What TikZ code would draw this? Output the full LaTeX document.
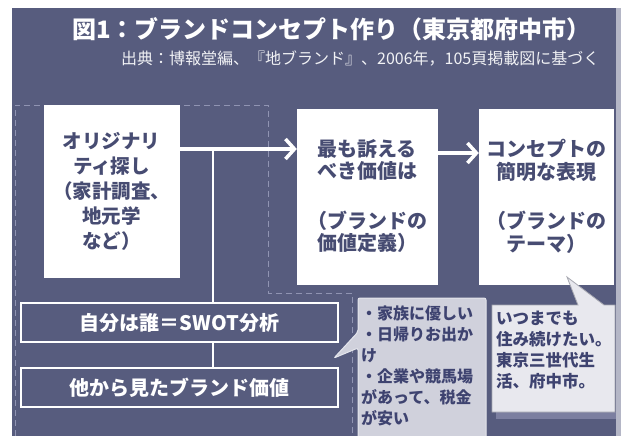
\documentclass[tikz,border=0pt]{standalone}
\usepackage{fontspec}
\setmainfont{Noto Sans CJK JP}
\usetikzlibrary{arrows.meta}
\definecolor{bg}{HTML}{575C7E}
\definecolor{strip}{HTML}{B4B6C6}
\definecolor{dashc}{HTML}{9094B2}
\definecolor{boxtext}{HTML}{474C72}
\definecolor{calltext}{HTML}{3E4370}
\definecolor{callfillA}{HTML}{D0D1DC}
\definecolor{callfillB}{HTML}{E8E8EE}
\definecolor{calldraw}{HTML}{E4E5EC}
\definecolor{shadowc}{HTML}{7C7FA0}
\tikzset{
  wbox/.style={draw=white, fill=white, inner sep=0pt, align=center, text=boxtext,
    font=\fontsize{19.5}{25}\selectfont\bfseries},
  bar/.style={draw=white, line width=1.5pt, fill=bg, inner sep=0pt, text=white,
    minimum width=317pt, minimum height=39pt, font=\fontsize{20}{20}\selectfont\bfseries},
  arr/.style={white, line width=3.5pt, -{Straight Barb[length=9pt,width=20pt]}},
  vline/.style={white, line width=1.5pt},
  calltxt/.style={anchor=north west, inner sep=0pt, align=left, text=calltext,
    font=\fontsize{16}{21}\selectfont\bfseries},
}
\begin{document}
\begin{tikzpicture}[x=1pt,y=-1pt]
\useasboundingbox (0,0) rectangle (621,436);
\fill[white] (0,0) rectangle (621,436);
\fill[bg] (12,8) rectangle (616,436);
\fill[strip] (616,8) rectangle (621,436);

% titles
\node[anchor=west, inner sep=0pt, text=white, font=\fontsize{24}{24}\selectfont\bfseries] (title) at (72,29)
  {図1：ブランドコンセプト作り（東京都府中市）};
\node[anchor=west, inner sep=0pt, text=white!92!bg, font=\fontsize{16}{16}\selectfont] (src) at (121,59)
  {出典：博報堂編、『地ブランド』、2006年，105頁掲載図に基づく};

% dashed frame
\draw[dashc, line width=0.8pt, dash pattern=on 6pt off 4pt]
  (15,436) -- (15,105) -- (268,105) -- (268,293) -- (352,293) -- (352,436);

% boxes
\node[wbox, minimum width=135pt, minimum height=172pt] (lb) at (111.5,191)
  {オリジナリ\\ティ探し\\（家計調査、\\地元学\\など）};
\node[wbox, minimum width=140pt, minimum height=175pt, font=\fontsize{20}{22}\selectfont\bfseries] (mb) at (367,196.5)
  {最も訴える\\べき価値は\\[28pt]（ブランドの\\価値定義）};
\node[wbox, minimum width=134pt, minimum height=175pt, font=\fontsize{20}{23}\selectfont\bfseries] (rb) at (546,196.5)
  {コンセプトの\\簡明な表現\\[26pt]（ブランドの\\テーマ）};

% connectors
\coordinate (j) at (213,149);
\draw[arr] (lb.east |- j) -- (mb.west |- j);
\draw[arr] ([yshift=-4pt]mb.east |- j) -- ([yshift=-4pt]rb.west |- j);

% bars
\node[bar] (b1) at (179.5,322.5) {自分は誰＝SWOT分析};
\node[bar] (b2) at (179.5,387.5) {他から見たブランド価値};
\draw[vline] (j) -- (j |- b1.north);
\draw[vline] (j |- b1.south) -- (j |- b2.north);

% left callout
\path[draw=calldraw, fill=callfillA, line width=1pt, rounded corners=2pt]
  (358,298) -- (486,298) -- (486,440) -- (358,440) -- (358,348) -- (334,358) -- (358,332) -- cycle;
\node[calltxt] (c1) at (361,306)
  {・家族に優しい\\・日帰りお出か\\け\\・企業や競馬場\\があって、税金\\が安い};

% right callout
\fill[shadowc] (496,412) rectangle (616,419);
\path[draw=callfillA!80!black, fill=callfillB, line width=0.8pt]
  (492,305) -- (578,305) -- (567,277) -- (604,305) -- (615,305) -- (615,412) -- (492,412) -- cycle;
\node[calltxt, font=\fontsize{16.5}{21}\selectfont\bfseries] (c2) at (496,311)
  {いつまでも\\住み続けたい。\\東京三世代生\\活、府中市。};
\end{tikzpicture}
\end{document}
